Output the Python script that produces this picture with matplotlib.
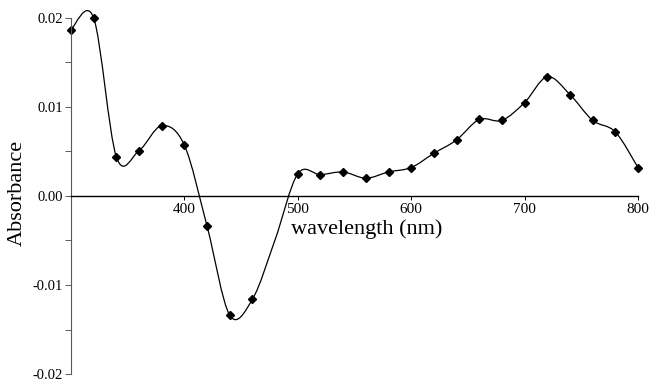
import numpy as np
import matplotlib
matplotlib.use("Agg")
import matplotlib.pyplot as plt
from matplotlib.path import Path
from matplotlib.patches import PathPatch
from matplotlib.ticker import MultipleLocator, FixedLocator

plt.rcParams['font.family'] = ['Liberation Serif', 'DejaVu Serif']
plt.rcParams['axes.unicode_minus'] = False

# data
wavelength = [300, 320, 340, 360, 380, 400, 420, 440, 460, 480, 500, 520,
              540, 560, 580, 600, 620, 640, 660, 680, 700, 720, 740, 760,
              780, 800]
absorbance = [0.0187, 0.0200, 0.0044, 0.0051, 0.0079, 0.0057, -0.0034, -0.0134,
              -0.0116, -0.0049, 0.0025, 0.0024, 0.0027, 0.0020, 0.0027, 0.0032,
              0.0048, 0.0063, 0.0086, 0.0085, 0.0105, 0.0134, 0.0114, 0.0085,
              0.0072, 0.0032]
hidden_marker = [480]

xticks = [400, 500, 600, 700, 800]
yticks = [-0.02, -0.01, 0.00, 0.01, 0.02]


def smooth_path(x, y):
    # catmull-rom through the points, drawn as bezier segments
    p = np.column_stack([x, y]).astype(float)
    ext = np.vstack([p[0], p, p[-1]])
    verts = [p[0]]
    codes = [Path.MOVETO]
    for i in range(1, len(ext) - 2):
        c1 = ext[i] + (ext[i + 1] - ext[i - 1]) / 6
        c2 = ext[i + 1] - (ext[i + 2] - ext[i]) / 6
        verts += [c1, c2, ext[i + 1]]
        codes += [Path.CURVE4] * 3
    return Path(verts, codes)


fig = plt.figure(figsize=(6.5, 3.81), dpi=100)
ax = fig.add_axes([71 / 650, 1 - 374 / 381, 567 / 650, 356 / 381])

ax.add_patch(PathPatch(smooth_path(wavelength, absorbance), fill=False,
                       edgecolor='black', lw=0.9, clip_on=False))

mx = [w for w in wavelength if w not in hidden_marker]
my = [a for w, a in zip(wavelength, absorbance) if w not in hidden_marker]
ax.plot(mx, my, linestyle='none', marker='D', ms=4.2, color='black', clip_on=False)

ax.set_xlim(300, 800)
ax.set_ylim(-0.02, 0.02)

for s in ['top', 'right']:
    ax.spines[s].set_visible(False)
ax.spines['bottom'].set_position(('data', 0))
ax.spines['bottom'].set_linewidth(1.0)
ax.spines['left'].set_color('0.35')
ax.spines['left'].set_linewidth(0.8)

ax.xaxis.set_major_locator(FixedLocator(xticks))
ax.set_xticklabels([str(t) for t in xticks])
ax.yaxis.set_major_locator(FixedLocator(yticks))
ax.set_yticklabels(['%.2f' % t for t in yticks])
ax.yaxis.set_minor_locator(MultipleLocator(0.005))

ax.tick_params(axis='x', direction='out', length=3, width=0.7, pad=2, labelsize=11)
ax.tick_params(axis='y', which='both', direction='out', length=4, width=0.7,
               pad=2, labelsize=10.5, color='0.35')

ax.set_xlabel('wavelength (nm)', fontsize=16)
ax.xaxis.set_label_coords(0.522, 0.435)
ax.set_ylabel('Absorbance', fontsize=16)
ax.yaxis.set_label_coords(-0.078, 0.51)

fig.savefig('out.png', dpi=100)
